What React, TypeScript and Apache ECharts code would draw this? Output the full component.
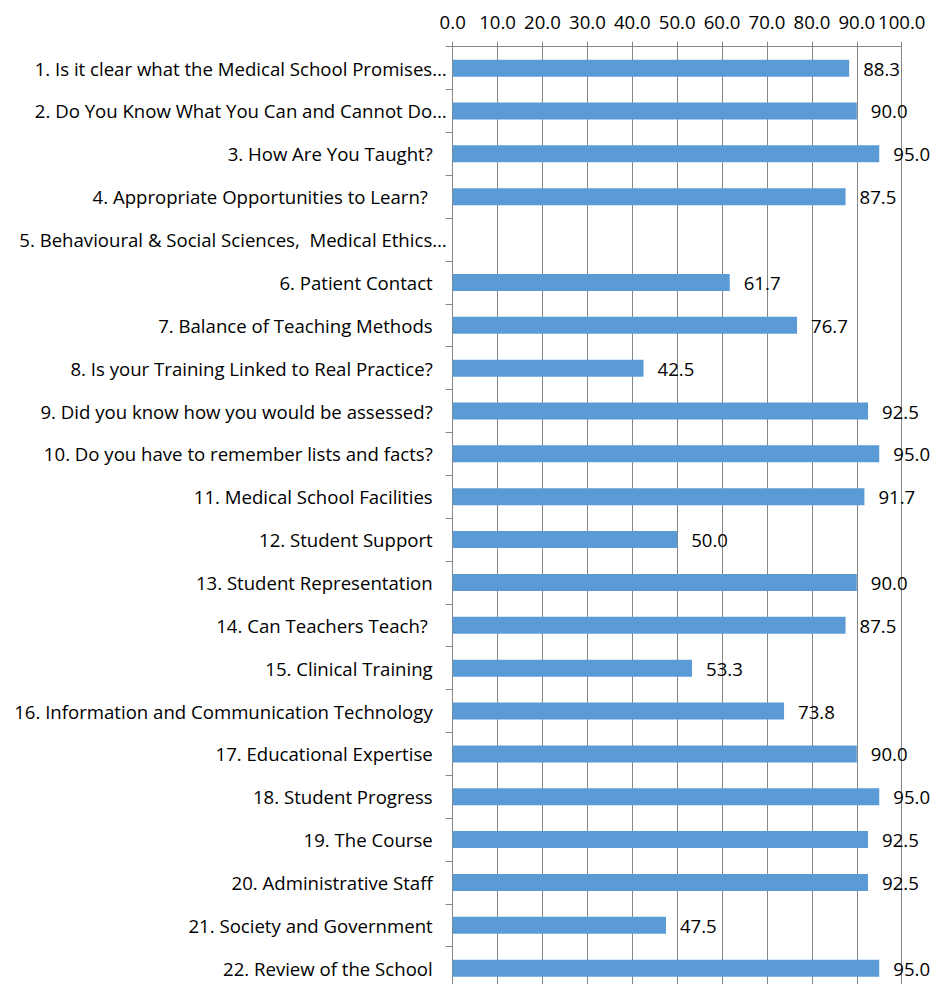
import React, { useEffect, useRef } from "react";
import * as echarts from "echarts";

const categories = [
  "1. Is it clear what the Medical School Promises…",
  "2. Do You Know What You Can and Cannot Do…",
  "3. How Are You Taught?",
  "4. Appropriate Opportunities to Learn? ",
  "5. Behavioural & Social Sciences,  Medical Ethics…",
  "6. Patient Contact",
  "7. Balance of Teaching Methods",
  "8. Is your Training Linked to Real Practice?",
  "9. Did you know how you would be assessed?",
  "10. Do you have to remember lists and facts?",
  "11. Medical School Facilities",
  "12. Student Support",
  "13. Student Representation",
  "14. Can Teachers Teach? ",
  "15. Clinical Training",
  "16. Information and Communication Technology",
  "17. Educational Expertise",
  "18. Student Progress",
  "19. The Course",
  "20. Administrative Staff",
  "21. Society and Government",
  "22. Review of the School",
];

const values: (number | null)[] = [
  88.3, 90.0, 95.0, 87.5, null, 61.7, 76.7, 42.5, 92.5, 95.0, 91.7, 50.0,
  90.0, 87.5, 53.3, 73.8, 90.0, 95.0, 92.5, 92.5, 47.5, 95.0,
];

const truncated = [0, 1, 4];

const FONT = "Open Sans";
const FS = 18.6;

export default function App() {
  const ref = useRef<HTMLDivElement>(null);
  useEffect(() => {
    if (!ref.current) return;
    const chart = echarts.init(ref.current, null, { renderer: "svg" });
    chart.setOption({
      animation: false,
      backgroundColor: "#ffffff",
      grid: { left: 452.7, top: 46.7, width: 449, height: 942.9, containLabel: false },
      xAxis: {
        type: "value",
        position: "top",
        min: 0,
        max: 100,
        interval: 10,
        axisLine: { show: true, lineStyle: { color: "#868686", width: 1 } },
        axisTick: { show: true, length: 5, lineStyle: { color: "#868686" } },
        splitLine: { show: true, lineStyle: { color: "#868686", width: 1 } },
        axisLabel: {
          margin: 16,
          fontFamily: FONT,
          fontSize: FS,
          color: "#000",
          formatter: (v: number) => v.toFixed(1),
        },
      },
      yAxis: {
        type: "category",
        inverse: true,
        data: categories,
        axisLine: { show: true, lineStyle: { color: "#868686", width: 1 } },
        axisTick: { show: true, length: 7, lineStyle: { color: "#868686" } },
        axisLabel: {
          margin: 6,
          fontFamily: FONT,
          fontSize: FS,
          color: "#000",
          formatter: (v: string, i: number) =>
            truncated.includes(i) ? `{t|${v}}` : `{n|${v}}`,
          rich: {
            t: { fontFamily: FONT, fontSize: FS, color: "#000" },
            n: { fontFamily: FONT, fontSize: FS, color: "#000", padding: [0, 14, 0, 0] },
          },
        },
      },
      series: [
        {
          type: "bar",
          data: values,
          barWidth: 17,
          itemStyle: { color: "#5B9BD5" },
          label: {
            show: true,
            position: "right",
            distance: 14,
            fontFamily: FONT,
            fontSize: FS,
            color: "#000",
            formatter: (p: any) => (p.value == null ? "" : Number(p.value).toFixed(1)),
          },
        },
      ],
    });
    return () => chart.dispose();
  }, []);
  return (
    <div style={{ position: "absolute", left: 0, top: 0, width: 937, height: 984, overflow: "hidden" }}>
      <div ref={ref} style={{ width: 937, height: 1000 }} />
    </div>
  );
}
